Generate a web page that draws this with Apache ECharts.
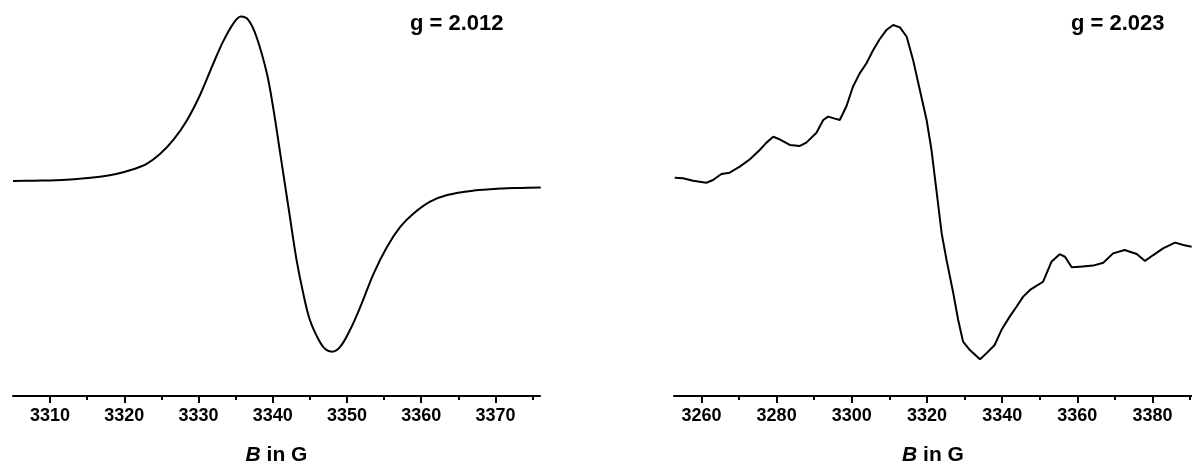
<!DOCTYPE html>
<html>
<head>
<meta charset="utf-8">
<script src="https://cdn.jsdelivr.net/npm/echarts@6/dist/echarts.min.js"></script>
<style>
html,body{margin:0;padding:0;background:#fff;}
#c{width:1192px;height:466px;}
</style>
</head>
<body>
<div id="c"></div>
<script>
// Left spectrum (g = 2.012): magnetic field B in G
var leftB = [3305.0,3307.7,3312.2,3316.7,3318.9,3321.2,3323.0,3324.8,3326.6,3328.4,3330.2,3332.0,3333.3,3334.7,3335.7,3336.7,3337.8,3339.2,3340.1,3341.0,3342.3,3343.2,3344.1,3345.0,3346.2,3347.1,3348.0,3349.1,3350.4,3351.8,3353.6,3355.4,3357.2,3359.0,3361.2,3363.5,3367.1,3370.7,3373.4,3376.1];
var leftI = [0.021,0.023,0.029,0.047,0.063,0.091,0.123,0.182,0.266,0.381,0.534,0.723,0.852,0.961,1.001,0.981,0.881,0.663,0.445,0.186,-0.191,-0.449,-0.648,-0.807,-0.926,-0.982,-0.996,-0.966,-0.867,-0.728,-0.529,-0.370,-0.251,-0.171,-0.102,-0.062,-0.036,-0.024,-0.020,-0.017];

// Right spectrum (g = 2.023)
var rightB = [3252.9,3255.1,3257.8,3261.3,3263.1,3265.3,3267.5,3270.2,3272.9,3275.5,3277.3,3279.1,3280.8,3283.5,3286.2,3287.9,3290.6,3292.4,3293.7,3295.5,3296.8,3298.6,3300.3,3302.1,3303.9,3305.7,3307.4,3309.2,3311.0,3312.8,3314.6,3316.3,3318.1,3319.9,3321.2,3322.5,3323.9,3325.2,3327.0,3328.3,3329.6,3331.4,3334.1,3335.8,3338.0,3339.8,3342.0,3343.8,3345.6,3347.4,3349.1,3350.9,3353.1,3355.3,3356.7,3358.5,3360.7,3364.2,3366.9,3369.5,3372.6,3375.8,3378.0,3380.2,3382.8,3386.0,3388.2,3390.4];
var rightI = [0.041,0.038,0.023,0.011,0.027,0.063,0.071,0.107,0.151,0.206,0.250,0.285,0.270,0.236,0.230,0.250,0.309,0.385,0.405,0.393,0.385,0.468,0.583,0.663,0.723,0.802,0.866,0.921,0.951,0.937,0.881,0.743,0.564,0.385,0.206,-0.032,-0.290,-0.449,-0.648,-0.807,-0.936,-0.986,-1.041,-1.006,-0.956,-0.867,-0.787,-0.728,-0.668,-0.628,-0.604,-0.579,-0.460,-0.415,-0.430,-0.493,-0.489,-0.483,-0.466,-0.410,-0.390,-0.414,-0.455,-0.420,-0.380,-0.346,-0.360,-0.370];

var leftMajor = [3310,3320,3330,3340,3350,3360,3370];
var leftMinor = [3315,3325,3335,3345,3355,3365,3375];
var rightMajor = [3260,3280,3300,3320,3340,3360,3380];
var rightMinor = [3270,3290,3310,3330,3350,3370,3390];
var gLabels = ['g = 2.012','g = 2.023'];
var axisTitle = '{i|B} in G';

function zip(a,b){var r=[];for(var i=0;i<a.length;i++)r.push([a[i],b[i]]);return r;}

var FONT = '"Liberation Sans", Arial, sans-serif';

function mainAxis(gi, min, max, major){
  return {
    type:'value', gridIndex:gi, min:min, max:max, position:'bottom',
    axisLine:{show:true, onZero:false, lineStyle:{color:'#000', width:2}},
    axisTick:{show:true, inside:false, length:7, customValues:major, lineStyle:{color:'#000', width:2}},
    axisLabel:{show:true, customValues:major, margin:11, color:'#000', fontFamily:FONT, fontWeight:'bold', fontSize:18,
      formatter:function(v){return String(Math.round(v));}},
    splitLine:{show:false},
    name:axisTitle, nameLocation:'middle', nameGap:49,
    nameTextStyle:{color:'#000', fontFamily:FONT, fontWeight:'bold', fontSize:21,
      rich:{i:{fontStyle:'italic', fontWeight:'bold', fontFamily:FONT, fontSize:21, color:'#000'}}}
  };
}
function minorAxis(gi, min, max, minor){
  return {
    type:'value', gridIndex:gi, min:min, max:max, position:'bottom',
    axisLine:{show:false, onZero:false},
    axisTick:{show:true, inside:false, length:4, customValues:minor, lineStyle:{color:'#000', width:2}},
    axisLabel:{show:false},
    splitLine:{show:false}
  };
}

var chart = echarts.init(document.getElementById('c'), null, {renderer:'canvas'});
chart.setOption({
  animation:false,
  backgroundColor:'#fff',
  grid:[
    {left:13, right:652, top:0, bottom:70, containLabel:false, outerBoundsMode:'none'},
    {left:674, right:0, top:0, bottom:70, containLabel:false, outerBoundsMode:'none'}
  ],
  xAxis:[
    mainAxis(0, 3305, 3376, leftMajor),
    mainAxis(1, 3252.7, 3390.5, rightMajor),
    minorAxis(0, 3305, 3376, leftMinor),
    minorAxis(1, 3252.7, 3390.5, rightMinor)
  ],
  yAxis:[
    {type:'value', gridIndex:0, min:-1.26, max:1.1, show:false},
    {type:'value', gridIndex:1, min:-1.26, max:1.1, show:false}
  ],
  series:[
    {type:'line', xAxisIndex:0, yAxisIndex:0, data:zip(leftB,leftI), showSymbol:false, smooth:0.35,
     lineStyle:{color:'#000', width:2}, silent:true},
    {type:'line', xAxisIndex:1, yAxisIndex:1, data:zip(rightB,rightI), showSymbol:false, smooth:false,
     lineStyle:{color:'#000', width:2}, silent:true}
  ],
  graphic:[
    {type:'text', left:410, top:13, style:{text:gLabels[0], fill:'#000', font:'bold 22px '+FONT}},
    {type:'text', left:1071, top:13, style:{text:gLabels[1], fill:'#000', font:'bold 22px '+FONT}}
  ]
});
</script>
</body>
</html>
